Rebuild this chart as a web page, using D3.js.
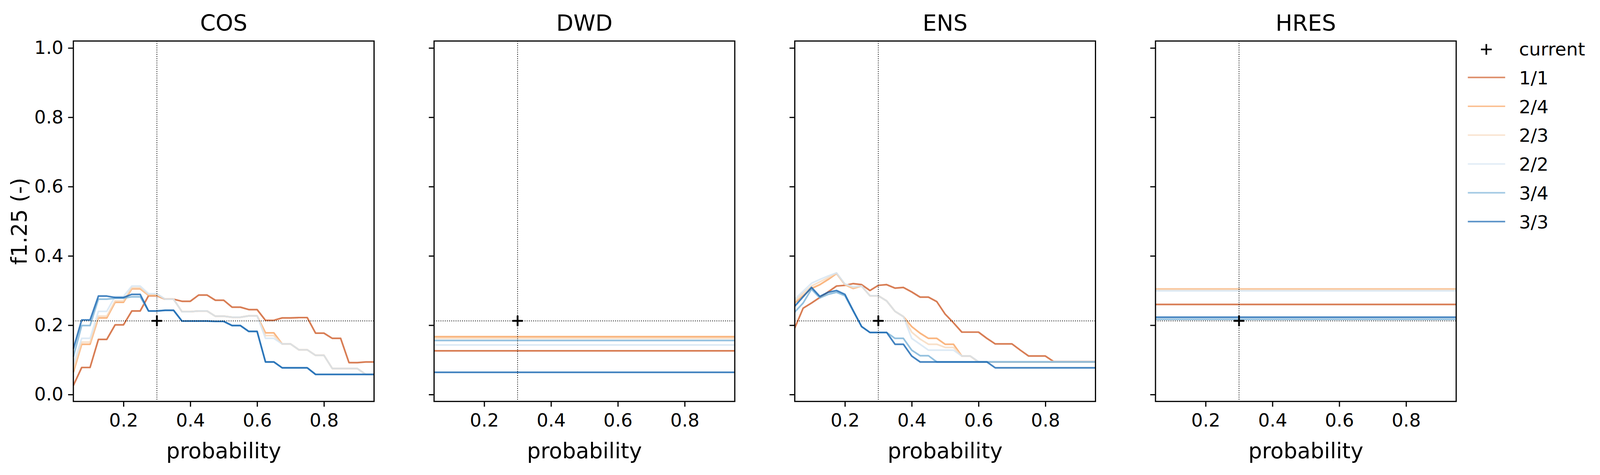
<!DOCTYPE html>
<html>
<head>
<meta charset="utf-8">
<script src="https://cdn.jsdelivr.net/npm/d3@7"></script>
<style>
  html, body { margin: 0; padding: 0; width: 100%; height: 100%; overflow: hidden; background: #fff; }
  svg { display: block; }
  text { font-family: "DejaVu Sans", sans-serif; }
</style>
</head>
<body>
<script>
// ---- data ----
const models = ["COS", "DWD", "ENS", "HRES"];
const thresholds = ["1/1", "2/4", "2/3", "2/2", "3/4", "3/3"];
const lineColors = ["#cd5824", "#f9a15c", "#f6d7ba", "#d4e4f2", "#76b0d6", "#0e60ae"];

const probability = [0.05, 0.075, 0.1, 0.125, 0.15, 0.175, 0.2, 0.225, 0.25, 0.275,
  0.3, 0.325, 0.35, 0.375, 0.4, 0.425, 0.45, 0.475, 0.5, 0.525, 0.55, 0.575, 0.6,
  0.625, 0.65, 0.675, 0.7, 0.725, 0.75, 0.775, 0.8, 0.825, 0.85, 0.875, 0.9, 0.925, 0.95];

const xTicks = [0.2, 0.4, 0.6, 0.8];
const yTicks = [0.0, 0.2, 0.4, 0.6, 0.8, 1.0];

// operational setting, marked with a cross
const currentProb = 0.3;
const currentScore = 0.2125;

// f1.25 per threshold (same order as thresholds)
const cos = [
  [0.026, 0.078, 0.078, 0.159, 0.159, 0.201, 0.201, 0.241, 0.241, 0.285, 0.285, 0.275, 0.275, 0.269, 0.269, 0.287, 0.287, 0.272, 0.272, 0.252, 0.252, 0.245, 0.245, 0.214, 0.214, 0.221, 0.221, 0.222, 0.222, 0.177, 0.177, 0.162, 0.162, 0.092, 0.092, 0.094, 0.094],
  [0.064, 0.145, 0.145, 0.221, 0.221, 0.266, 0.266, 0.305, 0.305, 0.286, 0.286, 0.275, 0.275, 0.239, 0.239, 0.241, 0.241, 0.226, 0.226, 0.223, 0.223, 0.227, 0.227, 0.178, 0.178, 0.146, 0.146, 0.129, 0.129, 0.113, 0.113, 0.075, 0.075, 0.075, 0.075, 0.058, 0.058],
  [0.072, 0.151, 0.151, 0.226, 0.226, 0.270, 0.270, 0.308, 0.308, 0.288, 0.288, 0.275, 0.275, 0.239, 0.239, 0.241, 0.241, 0.226, 0.226, 0.223, 0.223, 0.227, 0.227, 0.170, 0.170, 0.146, 0.146, 0.129, 0.129, 0.113, 0.113, 0.075, 0.075, 0.075, 0.075, 0.058, 0.058],
  [0.087, 0.162, 0.162, 0.240, 0.240, 0.283, 0.283, 0.313, 0.313, 0.291, 0.291, 0.275, 0.275, 0.239, 0.239, 0.241, 0.241, 0.226, 0.226, 0.223, 0.223, 0.227, 0.227, 0.162, 0.162, 0.146, 0.146, 0.129, 0.129, 0.113, 0.113, 0.075, 0.075, 0.075, 0.075, 0.058, 0.058],
  [0.109, 0.199, 0.199, 0.275, 0.275, 0.278, 0.278, 0.282, 0.282, 0.241, 0.241, 0.243, 0.243, 0.212, 0.212, 0.212, 0.212, 0.211, 0.211, 0.199, 0.199, 0.182, 0.182, 0.094, 0.094, 0.077, 0.077, 0.077, 0.077, 0.058, 0.058, 0.058, 0.058, 0.058, 0.058, 0.058, 0.058],
  [0.132, 0.215, 0.215, 0.284, 0.284, 0.280, 0.280, 0.289, 0.289, 0.241, 0.241, 0.243, 0.243, 0.212, 0.212, 0.212, 0.212, 0.211, 0.211, 0.199, 0.199, 0.182, 0.182, 0.094, 0.094, 0.077, 0.077, 0.077, 0.077, 0.058, 0.058, 0.058, 0.058, 0.058, 0.058, 0.058, 0.058]
];

const ens = [
  [0.192, 0.249, 0.264, 0.280, 0.296, 0.313, 0.315, 0.320, 0.317, 0.300, 0.315, 0.317, 0.307, 0.309, 0.296, 0.281, 0.281, 0.268, 0.232, 0.207, 0.180, 0.180, 0.180, 0.162, 0.146, 0.146, 0.146, 0.128, 0.111, 0.111, 0.111, 0.095, 0.095, 0.095, 0.095, 0.095, 0.095],
  [0.264, 0.285, 0.306, 0.317, 0.332, 0.349, 0.317, 0.306, 0.313, 0.285, 0.285, 0.270, 0.240, 0.225, 0.196, 0.177, 0.162, 0.162, 0.145, 0.145, 0.111, 0.111, 0.094, 0.094, 0.094, 0.094, 0.094, 0.094, 0.094, 0.094, 0.094, 0.094, 0.094, 0.094, 0.094, 0.094, 0.094],
  [0.270, 0.292, 0.313, 0.325, 0.337, 0.350, 0.318, 0.308, 0.313, 0.285, 0.285, 0.270, 0.240, 0.225, 0.180, 0.160, 0.145, 0.145, 0.136, 0.136, 0.111, 0.111, 0.094, 0.094, 0.094, 0.094, 0.094, 0.094, 0.094, 0.094, 0.094, 0.094, 0.094, 0.094, 0.094, 0.094, 0.094],
  [0.275, 0.298, 0.321, 0.332, 0.342, 0.351, 0.319, 0.311, 0.313, 0.285, 0.285, 0.270, 0.240, 0.225, 0.162, 0.145, 0.128, 0.128, 0.128, 0.128, 0.111, 0.111, 0.095, 0.095, 0.095, 0.095, 0.095, 0.095, 0.095, 0.095, 0.095, 0.095, 0.095, 0.095, 0.095, 0.095, 0.095],
  [0.238, 0.264, 0.304, 0.279, 0.289, 0.295, 0.285, 0.240, 0.196, 0.179, 0.179, 0.179, 0.162, 0.162, 0.128, 0.112, 0.112, 0.094, 0.094, 0.094, 0.094, 0.094, 0.094, 0.094, 0.094, 0.094, 0.094, 0.094, 0.094, 0.094, 0.094, 0.094, 0.094, 0.094, 0.094, 0.094, 0.094],
  [0.255, 0.282, 0.309, 0.283, 0.295, 0.300, 0.289, 0.242, 0.196, 0.179, 0.179, 0.179, 0.145, 0.145, 0.111, 0.094, 0.094, 0.094, 0.094, 0.094, 0.094, 0.094, 0.094, 0.094, 0.077, 0.077, 0.077, 0.077, 0.077, 0.077, 0.077, 0.077, 0.077, 0.077, 0.077, 0.077, 0.077]
];

// DWD and HRES do not depend on probability: one value per threshold
const dwd = [0.126, 0.167, 0.162, 0.143, 0.156, 0.064];
const hres = [0.260, 0.3045, 0.303, 0.299, 0.217, 0.223];

const modelData = { COS: cos, DWD: dwd, ENS: ens, HRES: hres };

// ---- layout ----
// positions below are for a 4842x1216 figure; they are stretched to the real window
const refW = 4842;
const refH = 1216;
const width = window.innerWidth || refW;
const height = window.innerHeight || refH;
const kx = width / refW;
const ky = height / refH;
const fk = Math.sqrt(kx * ky);   // text and stroke scale

const plotTop = 105 * ky;
const plotW = 910 * kx;
const plotH = 922.7 * ky;
const firstLeft = 222 * kx;
const panelStep = 1091.6 * kx;
const lineW = 4.6 * fk;
const lineAlpha = 0.78;

const svg = d3.select("body")
  .append("svg")
  .attr("width", width)
  .attr("height", height);

const x = d3.scaleLinear().domain([0.05, 0.95]).range([0, plotW]);
const y = d3.scaleLinear().domain([-0.02, 1.02]).range([plotH, 0]);

const line = d3.line()
  .x(d => x(d[0]))
  .y(d => y(d[1]));

models.forEach((model, i) => {
  const g = svg.append("g")
    .attr("transform", `translate(${firstLeft + i * panelStep}, ${plotTop})`);

  // series
  const series = modelData[model];
  thresholds.forEach((t, k) => {
    let pts;
    if (Array.isArray(series[k])) {
      pts = probability.map((p, j) => [p, series[k][j]]);
    } else {
      pts = x.domain().map(p => [p, series[k]]);
    }
    g.append("path")
      .datum(pts)
      .attr("d", line)
      .attr("fill", "none")
      .attr("stroke", lineColors[k])
      .attr("stroke-opacity", lineAlpha)
      .attr("stroke-width", lineW)
      .attr("stroke-linejoin", "round");
  });

  // reference lines through the current setting
  g.append("line")
    .attr("x1", x(currentProb)).attr("x2", x(currentProb))
    .attr("y1", 0).attr("y2", plotH)
    .attr("stroke", "#000").attr("stroke-width", 2.2 * fk)
    .attr("stroke-dasharray", `${2.2 * fk},${3.8 * fk}`);
  g.append("line")
    .attr("x1", 0).attr("x2", plotW)
    .attr("y1", y(currentScore)).attr("y2", y(currentScore))
    .attr("stroke", "#000").attr("stroke-width", 2.2 * fk)
    .attr("stroke-dasharray", `${2.2 * fk},${3.8 * fk}`);

  // cross marker
  const cx = x(currentProb), cy = y(currentScore), s = 14.5 * fk;
  g.append("path")
    .attr("d", `M${cx - s},${cy}H${cx + s}M${cx},${cy - s}V${cy + s}`)
    .attr("stroke", "#000").attr("stroke-width", 5 * fk);

  // frame
  g.append("rect")
    .attr("width", plotW).attr("height", plotH)
    .attr("fill", "none").attr("stroke", "#000").attr("stroke-width", 3.3 * fk);

  // axes
  const xAxis = g.append("g")
    .attr("transform", `translate(0, ${plotH})`)
    .call(d3.axisBottom(x).tickValues(xTicks).tickFormat(d3.format(".1f"))
      .tickSize(14.6 * fk).tickPadding(19 * fk));
  const yAxis = g.append("g")
    .call(d3.axisLeft(y).tickValues(yTicks)
      .tickFormat(i === 0 ? d3.format(".1f") : () => "")
      .tickSize(14.6 * fk).tickPadding(13 * fk));

  [xAxis, yAxis].forEach(a => {
    a.attr("font-family", "DejaVu Sans").attr("font-size", 51 * fk);
    a.select(".domain").remove();
    a.selectAll(".tick line").attr("stroke-width", 3.3 * fk);
  });

  // title and x label
  g.append("text")
    .attr("x", plotW / 2).attr("y", 79 * ky - plotTop)
    .attr("text-anchor", "middle")
    .attr("font-size", 62 * fk)
    .text(model);
  g.append("text")
    .attr("x", plotW / 2).attr("y", 1173 * ky - plotTop)
    .attr("text-anchor", "middle")
    .attr("font-size", 60 * fk)
    .text("probability");
});

// y label
svg.append("text")
  .attr("transform", `translate(${80 * kx}, ${plotTop + plotH / 2}) rotate(-90)`)
  .attr("text-anchor", "middle")
  .attr("font-size", 60 * fk)
  .text("f1.25 (-)");

// ---- legend ----
const legend = svg.append("g").attr("transform", `translate(${4442 * kx}, 0)`);
const rowY = d => (198.3 + d * 73.8) * ky;
const mx = 56 * kx, my = rowY(-1) + 2 * ky, ms = 15 * fk;

legend.append("path")
  .attr("d", `M${mx - ms},${my}H${mx + ms}M${mx},${my - ms}V${my + ms}`)
  .attr("stroke", "#000").attr("stroke-width", 4.5 * fk);
legend.append("text")
  .attr("x", 155 * kx).attr("y", rowY(-1) + 19 * fk)
  .attr("font-size", 51 * fk)
  .text("current");

thresholds.forEach((t, k) => {
  legend.append("line")
    .attr("x1", 0).attr("x2", 113 * kx)
    .attr("y1", rowY(k)).attr("y2", rowY(k))
    .attr("stroke", lineColors[k])
    .attr("stroke-opacity", 0.68)
    .attr("stroke-width", 4.2 * fk);
  legend.append("text")
    .attr("x", 155 * kx).attr("y", rowY(k) + 19 * fk)
    .attr("font-size", 51 * fk)
    .text(t);
});
</script>
</body>
</html>
